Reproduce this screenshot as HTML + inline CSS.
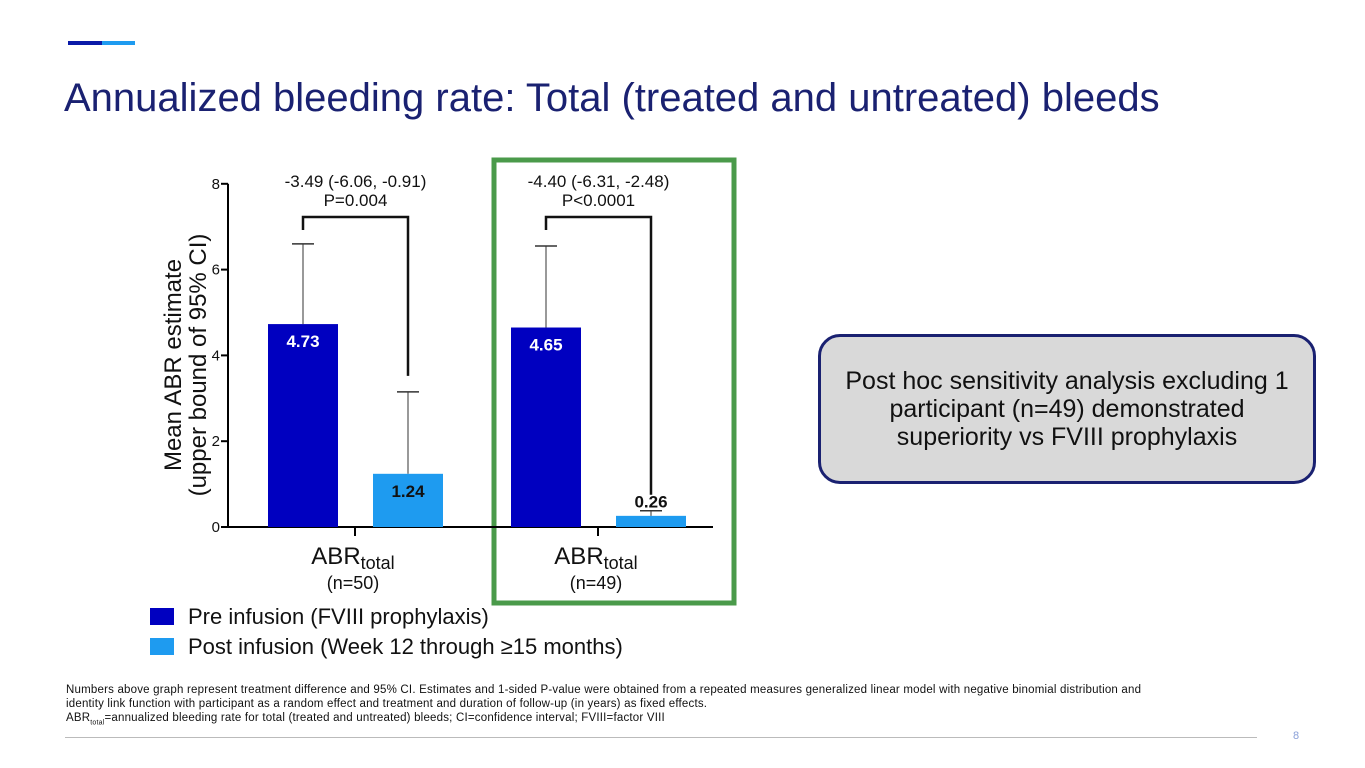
<!DOCTYPE html>
<html><head><meta charset="utf-8"><style>
body{margin:0;width:1365px;height:768px;background:#fff;font-family:"Liberation Sans",sans-serif;position:relative;overflow:hidden}
.abs{position:absolute}
</style></head><body>
<div class="abs" style="left:68px;top:41px;width:34px;height:4px;background:#0a1aa8"></div>
<div class="abs" style="left:102px;top:41px;width:33px;height:4px;background:#1e9bf0"></div>
<div class="abs" style="left:64px;top:76px;font-size:40px;color:#1a2171;white-space:nowrap">Annualized bleeding rate: Total (treated and untreated) bleeds</div>

<svg class="abs" style="left:0;top:0" width="1365" height="768" id="chart"></svg>

<div class="abs" style="left:818px;top:334px;width:492px;height:144px;background:#d9d9d9;border:3px solid #1a2171;border-radius:22px;display:flex;align-items:center;justify-content:center;text-align:center;font-size:25px;line-height:28px;color:#111">Post hoc sensitivity analysis excluding 1<br>participant (n=49) demonstrated<br>superiority vs FVIII prophylaxis</div>

<div class="abs" style="left:150px;top:604px;font-size:22px;color:#111;white-space:nowrap"><span style="display:inline-block;width:24px;height:17px;background:#0000c0;vertical-align:-1px;margin-right:14px"></span>Pre infusion (FVIII prophylaxis)</div>
<div class="abs" style="left:150px;top:634px;font-size:22px;color:#111;white-space:nowrap"><span style="display:inline-block;width:24px;height:17px;background:#1e9bf0;vertical-align:-1px;margin-right:14px"></span>Post infusion (Week 12 through ≥15 months)</div>

<div class="abs" style="left:66px;top:683px;font-size:11.5px;letter-spacing:0.2px;line-height:14px;color:#111;width:1100px">Numbers above graph represent treatment difference and 95% CI. Estimates and 1-sided P-value were obtained from a repeated measures generalized linear model with negative binomial distribution and identity link function with participant as a random effect and treatment and duration of follow-up (in years) as fixed effects.<br>ABR<sub style="font-size:7px">total</sub>=annualized bleeding rate for total (treated and untreated) bleeds; CI=confidence interval; FVIII=factor VIII</div>
<div class="abs" style="left:65px;top:737px;width:1192px;height:1px;background:#bbb"></div>
<div class="abs" style="left:1293px;top:730px;font-size:11px;color:#8aa0d8">8</div>

<script>
const categories=["ABRtotal (n=50)","ABRtotal (n=49)"];
const preValues=[4.73,4.65];
const postValues=[1.24,0.26];
const preUpper=[6.6,6.55];
const postUpper=[3.15,0.38];
const yTicks=[0,2,4,6,8];
const diffLabels=["-3.49 (-6.06, -0.91)","-4.40 (-6.31, -2.48)"];
const pLabels=["P=0.004","P<0.0001"];
const nLabels=["(n=50)","(n=49)"];

const svg=document.getElementById('chart');
const NS='http://www.w3.org/2000/svg';
const y0=527,pxPerUnit=42.9,axisX=228;
const y=v=>y0-v*pxPerUnit;
const groupCenters=[355,598];
const barW=70;
function el(tag,attrs,text){const e=document.createElementNS(NS,tag);for(const k in attrs)e.setAttribute(k,attrs[k]);if(text!==undefined)e.textContent=text;svg.appendChild(e);return e;}

let e;
e=el('rect',{x:494,y:160,width:240,height:443,fill:'none',stroke:'#4a9a4a','stroke-width':5});


e=el('line',{x1:axisX,y1:y(8),x2:axisX,y2:y0,stroke:'#000','stroke-width':2});


e=el('line',{x1:axisX-6,y1:y0,x2:713,y2:y0,stroke:'#000','stroke-width':2});


yTicks.forEach(t=>{
  e=el('line',{x1:axisX-7,y1:y(t),x2:axisX,y2:y(t),stroke:'#000','stroke-width':2});
  
  
  e=el('text',{x:axisX-8,y:y(t)+5,'text-anchor':'end','font-size':15,fill:'#111'},t);
  
  
});
e=el('text',{transform:'translate(181,365) rotate(-90)','text-anchor':'middle','font-size':24,fill:'#111'},'Mean ABR estimate');


e=el('text',{transform:'translate(206,365) rotate(-90)','text-anchor':'middle','font-size':24,fill:'#111'},'(upper bound of 95% CI)');



categories.forEach((c,i)=>{
  const gc=groupCenters[i];
  const px=gc-87,qx=gc+18;
  const pc=px+barW/2,qc=qx+barW/2;
  e=el('rect',{x:px,y:y(preValues[i]),width:barW,height:y0-y(preValues[i]),fill:'#0000c0'});
  
  
  e=el('rect',{x:qx,y:y(postValues[i]),width:barW,height:y0-y(postValues[i]),fill:'#1e9bf0'});
  
  
  [[pc,preValues[i],preUpper[i]],[qc,postValues[i],postUpper[i]]].forEach(([cx,v,u])=>{
    e=el('line',{x1:cx,y1:y(v),x2:cx,y2:y(u),stroke:'#333','stroke-width':1});
    
    
    e=el('line',{x1:cx-11,y1:y(u),x2:cx+11,y2:y(u),stroke:'#333','stroke-width':1.5});
    
    
  });
  e=el('text',{x:pc,y:y(preValues[i])+23,'text-anchor':'middle','font-size':17,'font-weight':'bold',fill:'#fff'},preValues[i].toFixed(2));
  
  
  const qy=postValues[i]>0.8?y(postValues[i])+23:y(postUpper[i])-3;
  e=el('text',{x:qc,y:qy,'text-anchor':'middle','font-size':17,'font-weight':'bold',fill:'#111'},postValues[i].toFixed(2));
  
  
  const by=217;
  e=el('path',{d:`M${pc} ${by+13} V${by} H${qc} V${Math.max(y(postUpper[i])-16,by+20)}`,fill:'none',stroke:'#111','stroke-width':2.5});
  
  
  const mx=(pc+qc)/2;
  e=el('text',{x:mx,y:187,'text-anchor':'middle','font-size':17,fill:'#111'},diffLabels[i]);
  
  
  e=el('text',{x:mx,y:206,'text-anchor':'middle','font-size':17,fill:'#111'},pLabels[i]);
  
  
  e=el('line',{x1:gc,y1:y0,x2:gc,y2:y0+9,stroke:'#000','stroke-width':2});
  
  
  const t=el('text',{x:gc-2,y:564,'text-anchor':'middle','font-size':24,fill:'#111'});
  
  
  const s1=document.createElementNS(NS,'tspan');s1.textContent='ABR';t.appendChild(s1);
  const s2=document.createElementNS(NS,'tspan');s2.setAttribute('font-size','18');s2.setAttribute('dy','5');s2.textContent='total';t.appendChild(s2);
  e=el('text',{x:gc-2,y:589,'text-anchor':'middle','font-size':18,fill:'#111'},nLabels[i]);
  
  
});
</script>
</body></html>
